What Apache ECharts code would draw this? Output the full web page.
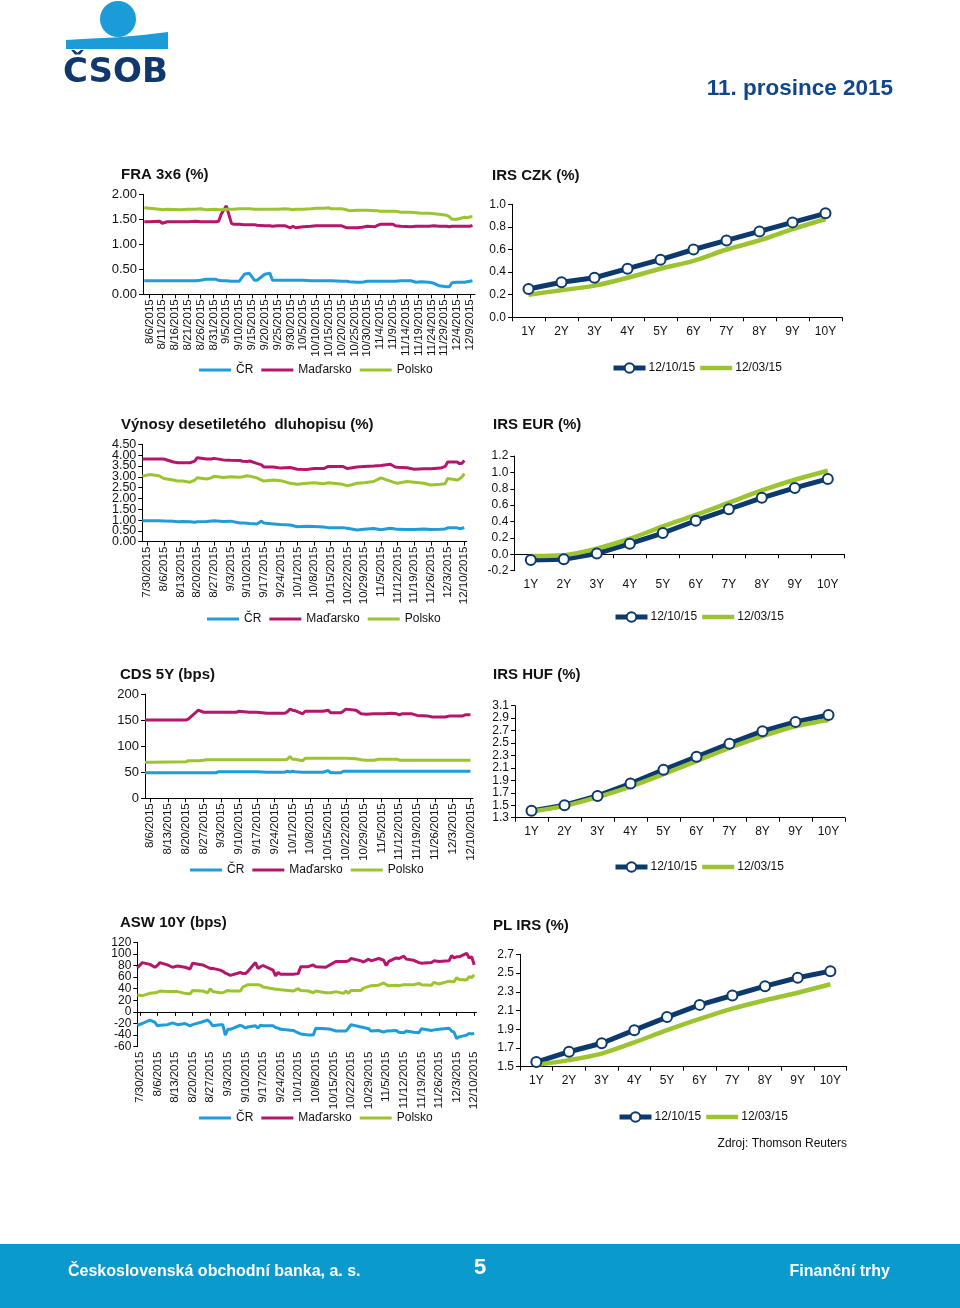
<!DOCTYPE html>
<html><head><meta charset="utf-8">
<script src="https://cdn.jsdelivr.net/npm/echarts@6/dist/echarts.min.js"></script>
<style>html,body{margin:0;padding:0;background:#fff}#c{width:960px;height:1308px}</style>
</head><body><div id="c"></div>
<script>
// ---------- DATA ----------
const YEAR = 2015;
const tenors = ['1Y','2Y','3Y','4Y','5Y','6Y','7Y','8Y','9Y','10Y'];
const seriesNames = ['ČR','Maďarsko','Polsko'];
const irsNames = ['12/10/15','12/03/15'];

const fraTicks = ['8/6','8/11','8/16','8/21','8/26','8/31','9/5','9/10','9/15','9/20','9/25','9/30','10/5','10/10','10/15','10/20','10/25','10/30','11/4','11/9','11/14','11/19','11/24','11/29','12/4','12/9'];
const weekTicks = ['7/30','8/6','8/13','8/20','8/27','9/3','9/10','9/17','9/24','10/1','10/8','10/15','10/22','10/29','11/5','11/12','11/19','11/26','12/3','12/10'];
const cdsTicks = ['8/6','8/13','8/20','8/27','9/3','9/10','9/17','9/24','10/1','10/8','10/15','10/22','10/29','11/5','11/12','11/19','11/26','12/3','12/10'];

// FRA 3x6 (%)
const fraDates = ['8/4','8/6','8/10','8/11','8/13','8/18','8/21','8/24','8/26','8/28','9/1','9/2','9/3','9/5','9/7','9/8','9/10','9/12','9/14','9/16','9/17','9/20','9/22','9/23','9/25','9/28','9/30','10/1','10/2','10/5','10/8','10/10','10/13','10/15','10/16','10/20','10/22','10/23','10/26','10/28','10/30','11/2','11/3','11/4','11/6','11/9','11/10','11/12','11/16','11/18','11/20','11/23','11/25','11/27','11/30','12/1','12/2','12/4','12/7','12/8','12/9','12/10'];
const fraCR = [0.27,0.27,0.27,0.27,0.27,0.27,0.27,0.27,0.28,0.30, 0.30,0.28,0.27,0.27,0.26,0.26,0.26,0.40,0.42,0.28, 0.28,0.40,0.42,0.28,0.28,0.28,0.28,0.28,0.28,0.28, 0.27,0.27,0.27,0.27,0.27,0.26,0.26,0.25,0.24,0.24, 0.26,0.26,0.26,0.26,0.26,0.26,0.26,0.27,0.27,0.24, 0.25,0.24,0.22,0.17,0.15,0.15,0.23,0.24,0.24,0.25, 0.26,0.27];
const fraHU = [1.45,1.45,1.46,1.42,1.45,1.45,1.45,1.46,1.45,1.45, 1.45,1.46,1.60,1.77,1.42,1.40,1.40,1.39,1.39,1.39, 1.38,1.37,1.37,1.36,1.37,1.37,1.33,1.36,1.33,1.35, 1.36,1.37,1.37,1.37,1.37,1.37,1.33,1.33,1.33,1.34, 1.36,1.35,1.38,1.40,1.40,1.40,1.37,1.36,1.35,1.36, 1.36,1.36,1.37,1.36,1.36,1.35,1.36,1.36,1.36,1.36, 1.36,1.38];
const fraPL = [1.73,1.72,1.70,1.69,1.70,1.69,1.70,1.70,1.71,1.69, 1.70,1.69,1.69,1.70,1.70,1.70,1.71,1.71,1.71,1.70, 1.70,1.70,1.70,1.70,1.70,1.71,1.70,1.69,1.70,1.70, 1.71,1.72,1.72,1.73,1.71,1.71,1.69,1.67,1.68,1.68, 1.68,1.67,1.67,1.66,1.66,1.66,1.66,1.64,1.64,1.63, 1.62,1.62,1.61,1.60,1.58,1.55,1.50,1.50,1.54,1.53, 1.55,1.55];

// Výnosy desetiletého dluhopisu (%)
const vynDates = ['7/28','7/31','8/4','8/6','8/10','8/12','8/14','8/17','8/19','8/20','8/24','8/26','8/27','8/31','9/3','9/7','9/8','9/10','9/11','9/14','9/16','9/17','9/21','9/24','9/28','10/1','10/5','10/8','10/12','10/14','10/20','10/22','10/26','10/29','11/2','11/5','11/9','11/11','11/12','11/16','11/19','11/23','11/26','11/30','12/2','12/3','12/7','12/8','12/9','12/10'];
const vynCR = [0.97,0.97,0.97,0.96,0.94,0.92,0.93,0.92,0.90,0.92, 0.93,0.96,0.97,0.93,0.95,0.86,0.87,0.85,0.84,0.82, 0.95,0.86,0.82,0.79,0.77,0.69,0.71,0.70,0.68,0.65, 0.65,0.62,0.54,0.57,0.61,0.55,0.62,0.59,0.57,0.56, 0.56,0.59,0.56,0.57,0.59,0.64,0.64,0.60,0.62,0.65];
const vynHU = [3.82,3.82,3.82,3.82,3.68,3.65,3.65,3.65,3.72,3.88, 3.82,3.82,3.85,3.78,3.76,3.75,3.72,3.70,3.73,3.62, 3.55,3.45,3.45,3.40,3.43,3.35,3.34,3.38,3.38,3.48, 3.48,3.38,3.45,3.48,3.50,3.52,3.58,3.45,3.44,3.42, 3.35,3.37,3.37,3.40,3.48,3.68,3.68,3.60,3.62,3.75];
const vynPL = [3.03,3.10,3.05,2.92,2.85,2.80,2.80,2.75,2.85,2.95, 2.90,2.95,3.02,2.97,3.00,2.98,3.00,3.05,3.03,2.95, 2.85,2.80,2.85,2.82,2.70,2.65,2.70,2.72,2.68,2.72, 2.65,2.58,2.70,2.72,2.78,2.95,2.80,2.72,2.70,2.78, 2.75,2.70,2.62,2.65,2.68,2.92,2.85,2.90,3.00,3.15];

// CDS 5Y (bps)
const cdsDates = ['8/4','8/6','8/20','8/21','8/25','8/27','8/28','9/1','9/2','9/9','9/10','9/14','9/17','9/21','9/28','9/29','9/30','10/1','10/2','10/5','10/6','10/13','10/15','10/16','10/20','10/21','10/22','10/26','10/28','10/30','11/2','11/4','11/6','11/9','11/11','11/12','11/13','11/17','11/19','11/23','11/25','11/30','12/2','12/7','12/8','12/10'];
const cdsCR = [49,49,49,49,49,49,49,49,51,51, 51,51,51,50,50,52,50,52,51,50, 50,50,53,49,49,52,52,52,52,52, 52,52,52,52,52,52,52,52,52,52, 52,52,52,52,52,52];
const cdsHU = [150,150,150,152,169,165,165,165,165,165, 167,165,165,163,163,166,171,169,168,162, 167,167,169,164,164,167,171,169,162,161, 162,162,162,163,162,160,162,162,159,158, 156,156,158,158,160,160];
const cdsPL = [69,69,70,72,72,73,74,74,74,74, 74,74,74,74,74,75,80,75,75,72, 77,77,77,77,77,77,77,76,74,73, 73,75,75,75,75,73,73,73,73,73, 73,73,73,73,73,73];

// ASW 10Y (bps)
const aswDates = ['7/29','7/31','8/3','8/5','8/6','8/7','8/10','8/12','8/14','8/17','8/19','8/20','8/24','8/26','8/27','8/28','8/31','9/1','9/2','9/3','9/4','9/8','9/9','9/10','9/11','9/14','9/15','9/16','9/17','9/21','9/22','9/23','9/24','9/29','10/1','10/2','10/5','10/7','10/8','10/12','10/14','10/16','10/19','10/20','10/21','10/22','10/26','10/27','10/29','10/30','11/2','11/4','11/5','11/6','11/9','11/10','11/12','11/13','11/16','11/18','11/19','11/23','11/24','11/26','11/30','12/1','12/2','12/3','12/4','12/7','12/8','12/9','12/10'];
const aswCR = [-23,-20,-14,-18,-24,-23,-22,-19,-22,-20, -24,-22,-17,-14,-18,-24,-22,-22,-40,-30, -30,-23,-25,-28,-26,-24,-28,-23,-24,-24, -27,-28,-30,-32,-36,-38,-40,-40,-28,-29, -30,-33,-33,-33,-28,-22,-26,-27,-29,-33, -32,-35,-33,-33,-32,-35,-36,-33,-35,-36, -29,-32,-31,-30,-28,-33,-35,-46,-43,-40, -37,-38,-37];
const aswHU = [76,85,82,77,80,85,81,77,79,77, 74,84,81,77,75,75,72,70,67,65, 63,68,66,66,70,85,75,78,80,72, 62,68,65,65,66,78,78,81,78,77, 82,87,87,87,88,92,88,86,91,88, 92,89,80,87,93,92,96,91,89,85, 84,85,88,87,88,97,93,95,95,101, 93,95,81];
const aswPL = [29,28,32,33,34,36,35,35,35,32, 31,37,36,33,40,35,33,33,35,37, 36,36,43,45,47,47,47,46,43,40, 39,39,38,36,40,37,36,33,36,33, 33,35,32,36,32,37,37,41,44,45, 46,50,47,45,46,45,47,47,47,49, 47,46,51,48,53,52,52,59,56,55, 61,59,64];

// IRS curves (%)
const czk1210 = [0.25,0.31,0.35,0.43,0.51,0.60,0.68,0.76,0.84,0.92];
const czk1203 = [0.20,0.24,0.28,0.35,0.43,0.50,0.60,0.68,0.78,0.87];
const eur1210 = [-0.07,-0.06,0.01,0.13,0.26,0.41,0.55,0.69,0.81,0.92];
const eur1203 = [-0.02,-0.01,0.07,0.19,0.34,0.48,0.63,0.78,0.91,1.02];
const huf1210 = [1.41,1.50,1.65,1.85,2.07,2.28,2.49,2.69,2.84,2.95];
const huf1203 = [1.40,1.49,1.63,1.80,2.00,2.21,2.42,2.61,2.77,2.87];
const pl1210 = [1.55,1.66,1.75,1.89,2.03,2.16,2.26,2.36,2.45,2.52];
const pl1203 = [1.52,1.57,1.64,1.76,1.89,2.01,2.12,2.21,2.29,2.38];

// ---------- HELPERS ----------
const DAY = 86400000;
const dn = s => { const p = s.split('/').map(Number); return Date.UTC(YEAR, p[0]-1, p[1]) / DAY; };
const fmtDate = v => { const d = new Date(Math.round(v) * DAY); return (d.getUTCMonth()+1)+'/'+d.getUTCDate()+'/'+d.getUTCFullYear(); };
const FONT = "'Liberation Sans', Arial, sans-serif";
const COL = {cr:'#1e9dd8', hu:'#b5166c', pl:'#9cc430', navy:'#0c3a6c', green:'#9cc430'};
const TXT = '#111';
const BAR3 = 'path://M0,0L32,0L32,3L0,3Z';
const BAR45 = 'path://M0,0L32,0L32,4.5L0,4.5Z';

function grid(left, top, width, height){ return {left, top, width, height, containLabel:false, outerBoundsMode:'none'}; }
// parity: null = all labels; 0/1 = only even/odd steps (two stacked axes so tightly spaced labels all stay visible)
function yAx(g, min, max, interval, dec, fs, parity, lineShow){
  const show = lineShow !== false;
  return {type:'value', gridIndex:g, min, max, interval, scale:false, position:'left', offset:0,
    splitLine:{show:false},
    axisLine:{show:show, onZero:false, lineStyle:{color:'#000', width:1}},
    axisTick:{show:show, length:4, lineStyle:{color:'#000'}},
    axisLabel:{fontSize:fs, color:TXT, fontFamily:FONT, margin:6, showMinLabel:true, showMaxLabel:true, hideOverlap:false,
      formatter:v => {
        if (parity != null) { const k = Math.round((v - min) / interval); if (k % 2 !== parity) return ''; }
        return v.toFixed(dec);
      }}};
}
function xDate(g, min, max, ticks, labels, lineShow, onZero){
  const vals = ticks.map(dn);
  return {type:'value', gridIndex:g, min, max, position:'bottom', scale:true,
    splitLine:{show:false}, minorTick:{show:false}, minorSplitLine:{show:false},
    axisLine:{show:lineShow, onZero:!!onZero, lineStyle:{color:'#000', width:1}},
    axisTick:{show:lineShow, length:4, customValues:vals, lineStyle:{color:'#000'}},
    axisLabel:{show:labels, customValues:vals, rotate:90, fontSize:11.5, margin:5, color:TXT, fontFamily:FONT, formatter:fmtDate, hideOverlap:false, showMinLabel:true, showMaxLabel:true}};
}
function xCat(g, showLine, showLabels, onZero){
  return {type:'category', gridIndex:g, data:tenors, boundaryGap:true, position:'bottom',
    splitLine:{show:false},
    axisLine:{show:showLine, onZero:!!onZero, lineStyle:{color:'#000', width:1}},
    axisTick:{show:showLine, length:4, lineStyle:{color:'#000'}},
    axisLabel:{show:showLabels, interval:0, fontSize:12, margin:8, color:TXT, fontFamily:FONT, hideOverlap:false}};
}
function tsLines(xi, yi, dates, arrs){
  const cols = [COL.cr, COL.hu, COL.pl];
  return arrs.map((arr, k) => ({type:'line', name:seriesNames[k], xAxisIndex:xi, yAxisIndex:yi,
    symbol:'none', showSymbol:false, lineStyle:{color:cols[k], width:3}, itemStyle:{color:cols[k]},
    data:dates.map((d, i) => [dn(d), arr[i]])}));
}
function irsLines(xi, yi, a, b){
  return [
    {type:'line', name:irsNames[0], xAxisIndex:xi, yAxisIndex:yi, data:a, symbol:'circle', symbolSize:10, showSymbol:true,
      lineStyle:{color:COL.navy, width:5}, itemStyle:{color:'#fff', borderColor:COL.navy, borderWidth:2}},
    {type:'line', name:irsNames[1], xAxisIndex:xi, yAxisIndex:yi, data:b, symbol:'none', showSymbol:false, smooth:0.3,
      lineStyle:{color:COL.green, width:4.5}, itemStyle:{color:COL.green}}
  ];
}
function ttl(bold, normal, left, top){
  return {text:'{b|'+bold+' }{n|'+normal+'}', left, top, padding:0,
    textStyle:{rich:{b:{fontSize:15, fontWeight:'bold', color:TXT, fontFamily:FONT}, n:{fontSize:15, color:TXT, fontFamily:FONT}}}};
}
function legTS(left, top){
  return {data:seriesNames, icon:BAR3, left, top, orient:'horizontal', itemWidth:32, itemHeight:12, itemGap:8, padding:0, selectedMode:false,
    textStyle:{fontSize:12, color:TXT, fontFamily:FONT}};
}
function legIRS(left, top){
  return {data:[{name:irsNames[0]}, {name:irsNames[1], icon:BAR45}], left, top, orient:'horizontal', itemWidth:32, itemHeight:12, itemGap:5, padding:0, selectedMode:false,
    textStyle:{fontSize:12, color:TXT, fontFamily:FONT, padding:[0,0,0,-2]}, lineStyle:{width:5}};
}

// ---------- OPTION ----------
const option = {
  animation:false,
  backgroundColor:'#fff',
  title:[
    ttl('FRA 3x6','(%)',121,167),
    ttl('IRS CZK','(%)',492,168),
    ttl('Výnosy desetiletého  dluhopisu','(%)',121,417),
    ttl('IRS EUR','(%)',493,417),
    ttl('CDS 5Y','(bps)',120,667),
    ttl('IRS HUF','(%)',493,667),
    ttl('ASW 10Y','(bps)',120,915),
    ttl('PL IRS','(%)',493,918)
  ],
  legend:[
    legTS(199,364), legIRS(611,362),
    legTS(207,613), legIRS(613,611),
    legTS(190,864), legIRS(613,861),
    legTS(199,1112), legIRS(617,1111)
  ],
  grid:[
    grid(143,194.3,332,100),
    grid(512,204.3,330,113),
    grid(142.3,444.3,324.4,97.4),
    grid(514.3,456,330,114.7),
    grid(145,694,328,104.3),
    grid(515,705.7,330,112),
    grid(137.3,942.3,339.4,104.4),
    grid(520,954.3,326.7,112.4)
  ],
  xAxis:[
    xDate(0, dn('8/3')+0.5, dn('12/11'), fraTicks, true, true, false),   // 0
    xCat(1, true, true, false),                                          // 1
    xDate(2, dn('7/28'), dn('12/11'), weekTicks, true, true, false),     // 2
    xCat(3, false, true, false),                                         // 3 labels
    xCat(3, true, false, true),                                          // 4 zero line
    xDate(4, dn('8/4'), dn('12/11'), cdsTicks, true, true, false),       // 5
    xCat(5, true, true, false),                                          // 6
    xDate(6, dn('7/29'), dn('12/11'), weekTicks, true, false, false),    // 7 labels
    xDate(6, dn('7/29'), dn('12/11'), weekTicks, false, true, true),     // 8 zero line
    xCat(7, true, true, false)                                           // 9
  ],
  yAxis:[
    yAx(0,0,2,0.5,2,13),
    yAx(1,0,1,0.2,1,12),
    yAx(2,0,4.5,0.5,2,12.5,0),
    yAx(3,-0.2,1.2,0.2,1,12),
    yAx(4,0,200,50,0,13),
    yAx(5,1.3,3.1,0.2,1,12),
    yAx(6,-60,120,20,0,12,0),
    yAx(7,1.5,2.7,0.2,1,12),
    yAx(2,0,4.5,0.5,2,12.5,1,false),   // 8: odd labels of Výnosy
    yAx(6,-60,120,20,0,12,1,false)     // 9: odd labels of ASW
  ],
  series:[].concat(
    tsLines(0,0,fraDates,[fraCR,fraHU,fraPL]),
    irsLines(1,1,czk1210,czk1203),
    tsLines(2,2,vynDates,[vynCR,vynHU,vynPL]),
    irsLines(3,3,eur1210,eur1203),
    tsLines(5,4,cdsDates,[cdsCR,cdsHU,cdsPL]),
    irsLines(6,5,huf1210,huf1203),
    tsLines(7,6,aswDates,[aswCR,aswHU,aswPL]),
    irsLines(9,7,pl1210,pl1203)
  ),
  graphic:[
    {type:'circle', shape:{cx:118, cy:19, r:18}, style:{fill:'#1b9bd7'}},
    {type:'polygon', shape:{points:[[66,40],[92,38.6],[118,37.2],[143,35],[168,32],[168,49],[66,49]]}, style:{fill:'#1b9bd7'}},
    {type:'text', x:63, y:73, style:{text:'ČSOB', font:"bold 34px 'DejaVu Sans'", fill:'#10386e', textVerticalAlign:'middle', verticalAlign:'middle'}},
    {type:'text', x:893, y:89, style:{text:'11. prosince 2015', font:"bold 22.5px 'Liberation Sans'", fill:'#12468a', textAlign:'right', align:'right', textVerticalAlign:'middle', verticalAlign:'middle'}},
    {type:'text', x:847, y:1144, style:{text:'Zdroj: Thomson Reuters', font:"12px 'Liberation Sans'", fill:TXT, textAlign:'right', align:'right', textVerticalAlign:'middle', verticalAlign:'middle'}},
    {type:'rect', shape:{x:0, y:1244, width:960, height:64}, style:{fill:'#0a9acd'}},
    {type:'text', x:68, y:1272, style:{text:'Československá obchodní banka, a. s.', font:"bold 16px 'Liberation Sans'", fill:'#fff', textVerticalAlign:'middle', verticalAlign:'middle'}},
    {type:'text', x:480, y:1268, style:{text:'5', font:"bold 22px 'Liberation Sans'", fill:'#fff', textAlign:'center', align:'center', textVerticalAlign:'middle', verticalAlign:'middle'}},
    {type:'text', x:890, y:1272, style:{text:'Finanční trhy', font:"bold 16px 'Liberation Sans'", fill:'#fff', textAlign:'right', align:'right', textVerticalAlign:'middle', verticalAlign:'middle'}}
  ]
};

const chart = echarts.init(document.getElementById('c'), null, {renderer:'canvas', width:960, height:1308});
chart.setOption(option);
</script></body></html>
